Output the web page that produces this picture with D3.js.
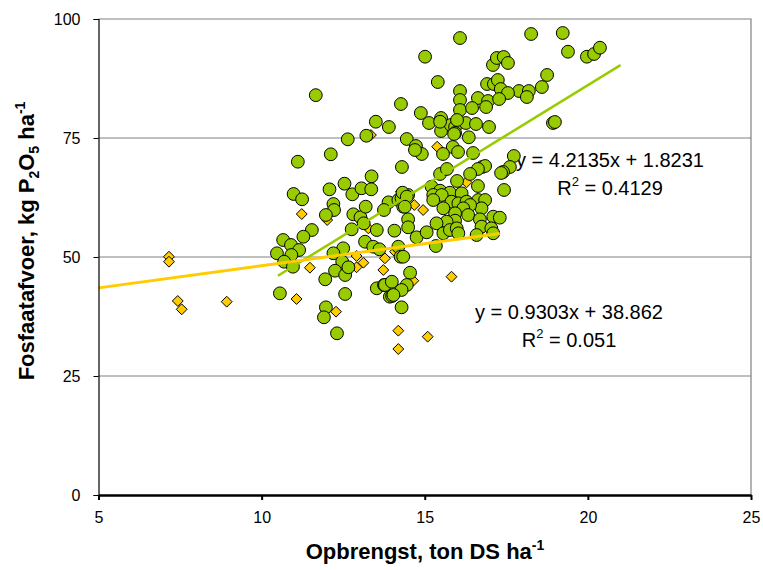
<!DOCTYPE html>
<html>
<head>
<meta charset="utf-8">
<script src="https://cdn.jsdelivr.net/npm/d3@7"></script>
<style>
  html, body { margin: 0; padding: 0; background: #fff; }
  svg { display: block; font-family: "Liberation Sans", Arial, sans-serif; }
</style>
</head>
<body>
<svg id="chart" width="763" height="570"></svg>
<script>
// Yield (ton DS/ha) vs. phosphate removal (kg P2O5/ha), two groups of fields.
const greenX = [11.66,16.08,18.26,19.23,19.39,19.97,20.19,20.37,15.01,17.09,17.21,17.42,17.55,15.40,18.75,16.91,17.12,17.24,17.33,17.89,18.19,18.13,18.59,17.55,16.08,16.08,16.08,16.63,16.94,17.28,16.45,16.88,14.27,14.88,15.13,15.50,15.50,15.80,15.93,15.93,16.26,16.57,16.97,15.99,13.90,18.93,18.99,14.45,14.73,14.91,14.70,14.30,15.86,16.02,16.48,15.56,16.76,16.85,16.63,17.73,17.61,17.40,17.34,17.43,15.47,15.68,16.39,16.63,15.99,13.50,12.64,13.21,12.12,11.11,13.37,12.54,12.78,13.06,13.36,12.08,10.98,11.24,13.89,12.20,12.22,11.97,12.81,13.03,13.19,13.13,13.53,12.76,11.54,11.28,10.66,10.90,11.15,13.17,13.42,13.61,12.50,12.20,10.47,10.91,10.69,10.96,11.95,12.47,12.25,12.56,12.66,12.56,11.97,11.91,12.31,10.56,13.53,13.75,13.93,14.19,14.29,14.49,14.34,14.07,14.49,14.49,14.75,14.19,14.26,14.34,14.55,14.45,14.29,14.00,13.78,14.29,15.47,15.90,16.35,15.21,15.47,15.77,16.13,15.26,15.52,14.32,14.45,15.26,15.82,16.03,16.28,16.64,16.85,16.74,16.39,16.18,15.57,15.93,16.33,16.69,16.74,17.10,17.30,17.04,15.93,15.67,15.36,15.57,15.77,15.98,16.03,16.59,17.10,15.06,15.34,14.39,13.99,14.04,13.75];
const greenY = [84.0,96.0,96.85,97.06,93.13,92.08,92.65,93.97,92.08,90.34,91.81,92.02,90.76,86.76,88.24,86.34,86.34,87.18,85.29,84.87,84.87,83.61,85.71,84.45,84.87,82.98,80.88,83.40,82.77,83.19,81.30,81.51,82.14,80.25,78.15,79.20,76.47,77.73,77.31,76.05,78.15,77.94,77.31,78.78,77.31,78.15,78.36,74.79,73.32,71.64,72.48,68.91,73.11,72.06,71.85,71.64,68.91,69.12,68.49,71.22,68.91,67.86,67.65,64.08,67.44,68.49,67.44,64.92,65.97,78.42,74.73,75.48,71.58,70.02,66.95,65.40,63.17,64.43,64.22,64.22,63.24,62.12,61.49,61.13,59.87,58.82,58.97,58.34,60.57,57.08,55.67,55.82,55.67,54.26,53.57,52.52,51.47,53.21,52.16,51.62,51.83,50.78,50.78,50.42,49.01,47.96,45.32,49.01,47.12,46.22,47.84,42.23,39.43,37.33,33.97,42.37,43.42,44.12,41.66,61.97,62.33,63.03,60.57,55.53,57.92,56.24,54.14,52.16,50.06,50.06,46.70,44.12,43.07,41.81,44.12,39.43,78.42,75.84,75.15,64.77,63.93,63.51,63.38,63.03,63.03,63.51,62.67,61.97,61.62,61.28,61.62,61.97,61.97,60.23,60.92,60.23,60.23,59.18,58.82,57.92,56.37,58.47,58.26,56.03,57.63,57.42,57.08,54.98,55.67,56.03,54.98,54.62,54.98,55.19,52.31,60.57,44.81,42.02,59.87];

const orangeX = [7.16,7.16,7.43,7.55,8.93,11.07,11.48,11.23,12.01,13.27,13.35,12.28,12.91,13.12,12.91,13.78,13.73,14.27,14.68,14.95,14.09,14.65,14.19,14.19,15.09,15.82,15.38,16.28];
const orangeY = [50.06,49.01,40.76,39.01,40.61,41.18,47.75,59.03,57.77,56.03,75.63,38.51,50.21,48.80,47.84,49.73,47.27,63.72,60.92,59.87,51.11,45.02,34.52,30.67,33.26,45.86,73.17,65.69];

// Linear trendlines: slope, intercept, x-range, R²
const greenFit  = { slope: 4.2135, intercept: 1.8231, from: 10.5, to: 21.0, r2: "0.4129" };
const orangeFit = { slope: 0.9303, intercept: 38.862, from: 5.0,  to: 17.3, r2: "0.051" };

const xTicks = [5, 10, 15, 20, 25];
const yTicks = [0, 25, 50, 75, 100];

const GREEN = "#99cc00", ORANGE = "#ffcc00";
const svg = d3.select("#chart");
const x = d3.scaleLinear().domain([5, 25]).range([98.5, 751]);
const y = d3.scaleLinear().domain([0, 100]).range([495, 19]);

// gridlines
svg.append("g").selectAll("line").data(yTicks.filter(v => v > 0 && v < 100)).join("line")
  .attr("x1", x(5)).attr("x2", x(25))
  .attr("y1", d => y(d)).attr("y2", d => y(d))
  .attr("stroke", "#808080").attr("stroke-width", 1);

// plot frame (top and right)
svg.append("path")
  .attr("d", `M${x(5)},${y(100)}H${x(25)}V${y(0)}`)
  .attr("fill", "none").attr("stroke", "#808080").attr("stroke-width", 1.2);

// equation labels
function equation(fit, cx, by) {
  const g = svg.append("g").attr("font-size", 20).attr("fill", "#000").attr("text-anchor", "middle");
  g.append("text").attr("x", cx).attr("y", by)
    .text(`y = ${fit.slope}x + ${fit.intercept}`);
  const t = g.append("text").attr("x", cx).attr("y", by + 28);
  t.append("tspan").text("R");
  t.append("tspan").attr("dy", -9).attr("font-size", 13).text("2");
  t.append("tspan").attr("dy", 9).text(" = " + fit.r2);
}
equation(greenFit, 610, 167);
equation(orangeFit, 569, 319);

// markers
svg.append("g").selectAll("path").data(orangeX.map((v, i) => [v, orangeY[i]])).join("path")
  .attr("d", d3.symbol(d3.symbolDiamond2, 75))
  .attr("transform", d => `translate(${x(d[0])},${y(d[1])})`)
  .attr("fill", ORANGE).attr("stroke", "#000").attr("stroke-width", 1);

svg.append("g").selectAll("circle").data(greenX.map((v, i) => [v, greenY[i]])).join("circle")
  .attr("cx", d => x(d[0])).attr("cy", d => y(d[1])).attr("r", 6.4)
  .attr("fill", GREEN).attr("stroke", "#000").attr("stroke-width", 1);

// trendlines
function trend(fit, color, w) {
  const pts = [fit.from, fit.to].map(v => [v, fit.slope * v + fit.intercept]);
  svg.append("path")
    .attr("d", d3.line().x(d => x(d[0])).y(d => y(d[1]))(pts))
    .attr("stroke", color).attr("stroke-width", w).attr("fill", "none");
}
trend(greenFit, GREEN, 2.5);
trend(orangeFit, ORANGE, 3);

// axes
const yAxis = svg.append("g").attr("transform", `translate(${x(5)},0)`)
  .call(d3.axisLeft(y).tickValues(yTicks).tickSize(5).tickPadding(13));
yAxis.select(".domain").attr("stroke", "#000").attr("stroke-width", 1.2);
yAxis.selectAll("text").attr("font-size", 16).attr("font-family", "Liberation Sans, Arial, sans-serif").attr("fill", "#000");

const xAxis = svg.append("g").attr("transform", `translate(0,${y(0)})`)
  .call(d3.axisBottom(x).tickValues(xTicks).tickSize(5).tickPadding(12).tickSizeOuter(0));
xAxis.select(".domain").attr("stroke", "#000").attr("stroke-width", 2.5);
xAxis.selectAll(".tick line").attr("stroke-width", 2);
xAxis.selectAll("text").attr("font-size", 16).attr("font-family", "Liberation Sans, Arial, sans-serif").attr("fill", "#000");

// axis titles
const xt = svg.append("text").attr("x", 425).attr("y", 559).attr("text-anchor", "middle")
  .attr("font-size", 22).attr("font-weight", "bold");
xt.append("tspan").text("Opbrengst, ton DS ha");
xt.append("tspan").attr("dy", -9).attr("font-size", 14).text("-1");

const yt = svg.append("text").attr("transform", "translate(34,241) rotate(-90)")
  .attr("text-anchor", "middle").attr("font-size", 22).attr("font-weight", "bold");
yt.append("tspan").text("Fosfaatafvoer, kg P");
yt.append("tspan").attr("dy", 5).attr("font-size", 14).text("2");
yt.append("tspan").attr("dy", -5).text("O");
yt.append("tspan").attr("dy", 5).attr("font-size", 14).text("5");
yt.append("tspan").attr("dy", -5).text(" ha");
yt.append("tspan").attr("dy", -9).attr("font-size", 14).text("-1");
</script>
</body>
</html>
